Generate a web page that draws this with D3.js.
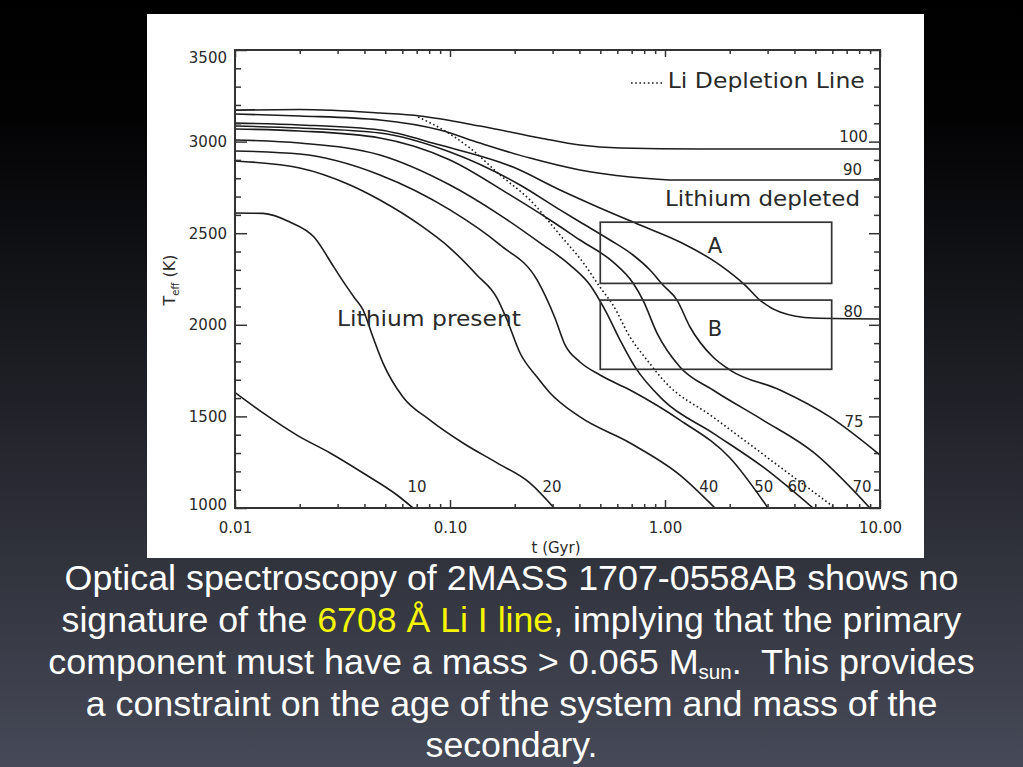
<!DOCTYPE html>
<html><head><meta charset="utf-8">
<script src="https://cdn.jsdelivr.net/npm/d3@7/dist/d3.min.js"></script>
<style>html,body{margin:0;padding:0;background:#000;overflow:hidden}</style>
</head><body><svg id="c" width="1023" height="767"></svg>
<script>
// ---------- data (t in Gyr, Teff in K) ----------
const xTicks = [0.01, 0.1, 1, 10];
const yTicks = [1000, 1500, 2000, 2500, 3000, 3500];
const masses = [10, 20, 40, 50, 60, 70, 75, 80, 90, 100];
const track10 = [[0.01,1630],[0.0135,1519],[0.0194,1398],[0.0277,1300],[0.0394,1191],[0.0567,1071],[0.0673,1000]];
const track20 = [[0.01,2610],[0.0135,2608],[0.018,2561],[0.0233,2479],[0.0288,2316],[0.0315,2245],[0.0357,2152],[0.0394,2081],[0.0438,1933],[0.0488,1791],[0.0604,1606],[0.0807,1480],[0.1149,1355],[0.1655,1246],[0.2357,1136],[0.305,1000]];
const track40 = [[0.01,2894],[0.02,2856],[0.0343,2763],[0.0472,2681],[0.0725,2545],[0.1,2419],[0.1333,2272],[0.1655,2146],[0.1843,2026],[0.2117,1846],[0.254,1715],[0.292,1628],[0.4024,1497],[0.6877,1355],[1.174,1180],[1.709,1000]];
const track50 = [[0.01,2949],[0.02,2932],[0.0472,2818],[0.1,2627],[0.1709,2436],[0.254,2245],[0.3078,2037],[0.3428,1890],[0.4024,1797],[0.4984,1726],[0.6877,1644],[1.174,1480],[2.007,1273],[3.013,1000]];
const track60 = [[0.01,3009],[0.02,2992],[0.0472,2927],[0.1,2763],[0.1709,2599],[0.2623,2447],[0.3617,2326],[0.4479,2217],[0.5259,2081],[0.6177,1917],[0.7251,1770],[0.9787,1590],[1.672,1409],[2.855,1224],[4.879,1000]];
const track70 = [[0.01,3069],[0.02,3058],[0.0472,3020],[0.1,2900],[0.1902,2709],[0.292,2572],[0.4024,2463],[0.5728,2343],[0.7098,2228],[0.7898,2135],[0.9179,1955],[1.174,1770],[1.672,1644],[2.855,1480],[4.879,1306],[8.978,1000]];
const track75 = [[0.01,3085],[0.02,3074],[0.0472,3047],[0.1,2943],[0.2117,2763],[0.325,2627],[0.4024,2561],[0.5549,2463],[0.7098,2381],[0.8515,2299],[0.9787,2217],[1.137,2135],[1.307,1988],[1.672,1824],[2.007,1753],[3.426,1644],[5.848,1497],[10,1289]];
const track80 = [[0.01,3101],[0.02,3091],[0.0472,3063],[0.0898,2981],[0.1964,2861],[0.325,2736],[0.4984,2638],[0.7651,2545],[1.174,2452],[1.803,2326],[2.356,2217],[2.764,2135],[3.426,2070],[4.879,2037],[10,2032]];
const track90 = [[0.01,3151],[0.02,3140],[0.0472,3118],[0.0898,3063],[0.1379,2992],[0.2357,2910],[0.4024,2845],[0.6877,2807],[1.174,2790],[10,2790]];
const track100 = [[0.01,3172],[0.02,3175],[0.0472,3156],[0.0725,3140],[0.1379,3085],[0.2623,3020],[0.4024,2981],[0.6177,2965],[1.455,2960],[10,2960]];
const liDepletion = [[0.071,3134],[0.0898,3074],[0.1238,2965],[0.1709,2818],[0.2357,2681],[0.325,2490],[0.4246,2326],[0.4984,2206],[0.5728,2108],[0.6877,1933],[0.8248,1808],[1.0,1688],[1.672,1497],[3.426,1224],[6.176,1000]];
const tracks = [track10, track20, track40, track50, track60, track70, track75, track80, track90, track100];
// mass label anchor (t, Teff) for each track
const massLabelPos = [[0.0703,1087],[0.298,1087],[1.60,1087],[2.88,1087],[4.11,1087],[8.24,1087],[7.57,1442],[7.50,2043],[7.46,2818],[7.53,2998]];
// boxes: label, t0, t1, Teff0, Teff1, label t, label Teff
const boxes = [["A", 0.5, 5.96, 2226, 2560, 1.709, 2392], ["B", 0.5, 5.96, 1757, 2135, 1.709, 1939]];
const captionLines = [
  [["Optical spectroscopy of 2MASS 1707-0558AB shows no","w"]],
  [["signature of the ","w"],["6708 Å Li I line","y"],[", implying that the primary","w"]],
  [["component must have a mass > 0.065 M","w"],["sun","sub"],[".  This provides","back"]],
  [["a constraint on the age of the system and mass of the","w"]],
  [["secondary.","w"]]
];

// ---------- drawing ----------
const svg = d3.select("#c");
const defs = svg.append("defs");
const grad = defs.append("linearGradient").attr("id","bg").attr("x1",0).attr("y1",0).attr("x2",0).attr("y2",1);
grad.append("stop").attr("offset","0%").attr("stop-color","#000000");
grad.append("stop").attr("offset","15%").attr("stop-color","#020203");
grad.append("stop").attr("offset","100%").attr("stop-color","#464957");
svg.append("rect").attr("width",1023).attr("height",767).attr("fill","url(#bg)");
svg.append("rect").attr("x",147).attr("y",14).attr("width",777).attr("height",544).attr("fill","#fff");

const L = 235, R = 880, T = 50, B = 508;
const x = d3.scaleLog().domain([0.01, 10]).range([L, R]);
const y = d3.scaleLinear().domain([1000, 3500]).range([B, T]);

defs.append("clipPath").attr("id","pc").append("rect").attr("x",L).attr("y",T).attr("width",R-L).attr("height",B-T);

const ink = "#1c1c1c";
const plot = svg.append("g").attr("clip-path","url(#pc)");
const line = d3.line().x(d => x(d[0])).y(d => y(d[1])).curve(d3.curveMonotoneX);
plot.selectAll("path.track").data(tracks).join("path").attr("class","track")
  .attr("d", line).attr("fill","none").attr("stroke",ink).attr("stroke-width",1.6);
plot.append("path").attr("d", line(liDepletion))
  .attr("fill","none").attr("stroke",ink).attr("stroke-width",1.6).attr("stroke-dasharray","1.6 2.6");

// boxes
boxes.forEach(([lab,t0,t1,a,b]) => {
  svg.append("rect").attr("x",x(t0)).attr("y",y(b)).attr("width",x(t1)-x(t0)).attr("height",y(a)-y(b))
    .attr("fill","none").attr("stroke","#333").attr("stroke-width",1.7);
});

// axes
const xMinor = [];
[0.01,0.1,1].forEach(d => { for (let k=2;k<=9;k++) xMinor.push(k*d); });
const yMinor = d3.range(1000,3501,100).filter(v => v % 500 !== 0);
function style(g){
  g.select(".domain").remove();
  g.selectAll("line").attr("stroke","#333").attr("stroke-width",1.5);
  g.selectAll("text").attr("font-family","DejaVu Sans, sans-serif").attr("font-size",15).attr("fill","#2a2a2a");
}
const fmtX = d3.format(".2f");
svg.append("g").attr("transform",`translate(0,${B})`)
  .call(d3.axisBottom(x).tickValues(xTicks).tickSize(-8).tickSizeOuter(0).tickPadding(14).tickFormat(fmtX)).call(style);
svg.append("g").attr("transform",`translate(0,${B})`)
  .call(d3.axisBottom(x).tickValues(xMinor).tickSize(-4).tickSizeOuter(0).tickFormat("")).call(style);
svg.append("g").attr("transform",`translate(0,${T})`)
  .call(d3.axisTop(x).tickValues(xTicks).tickSize(-7).tickSizeOuter(0).tickFormat("")).call(style);
svg.append("g").attr("transform",`translate(0,${T})`)
  .call(d3.axisTop(x).tickValues(xMinor).tickSize(-4).tickSizeOuter(0).tickFormat("")).call(style);
const gl = svg.append("g").attr("transform",`translate(${L},0)`)
  .call(d3.axisLeft(y).tickValues(yTicks).tickSize(-12).tickSizeOuter(0).tickPadding(8).tickFormat(d3.format("d"))).call(style);
gl.selectAll("text").attr("dy", d => d === 3500 ? "0.8em" : d === 1000 ? "0.1em" : "0.32em");
svg.append("g").attr("transform",`translate(${L},0)`)
  .call(d3.axisLeft(y).tickValues(yMinor).tickSize(-6).tickSizeOuter(0).tickFormat("")).call(style);
svg.append("g").attr("transform",`translate(${R},0)`)
  .call(d3.axisRight(y).tickValues(yTicks).tickSize(-11).tickSizeOuter(0).tickFormat("")).call(style);
svg.append("g").attr("transform",`translate(${R},0)`)
  .call(d3.axisRight(y).tickValues(yMinor).tickSize(-6).tickSizeOuter(0).tickFormat("")).call(style);
svg.append("rect").attr("x",L).attr("y",T).attr("width",R-L).attr("height",B-T)
  .attr("fill","none").attr("stroke","#333").attr("stroke-width",2);

// axis titles
const fnt = "DejaVu Sans, sans-serif";
svg.append("text").attr("x",556).attr("y",553).attr("text-anchor","middle")
  .attr("font-family",fnt).attr("font-size",15).attr("fill","#2a2a2a").text("t (Gyr)");
const yt = svg.append("text").attr("transform","translate(175,280) rotate(-90)").attr("text-anchor","middle")
  .attr("font-family",fnt).attr("font-size",16).attr("fill","#2a2a2a");
yt.append("tspan").text("T");
yt.append("tspan").attr("font-size",10).attr("dy",4).text("eff");
yt.append("tspan").attr("dy",-4).style("white-space","pre").text(" (K)");

// mass labels
svg.selectAll("text.mass").data(masses).join("text").attr("class","mass")
  .attr("x",(d,i) => x(massLabelPos[i][0])).attr("y",(d,i) => y(massLabelPos[i][1]))
  .attr("text-anchor","middle").attr("font-family",fnt).attr("font-size",15).attr("fill","#2a2a2a").text(d => d);

// annotations
function ann(txt, t, te, size, width, anchor){
  const s = svg.append("text").attr("x",x(t)).attr("y",y(te)).attr("font-family",fnt).attr("font-size",size)
    .attr("fill","#2a2a2a").attr("text-anchor",anchor||"start").text(txt);
  if (width) s.attr("textLength",width).attr("lengthAdjust","spacingAndGlyphs");
  return s;
}
ann("Li Depletion Line", 1.03, 3293, 22, 197);
svg.append("line").attr("x1",x(0.695)).attr("x2",x(0.979)).attr("y1",y(3320)).attr("y2",y(3320))
  .attr("stroke",ink).attr("stroke-width",1.6).attr("stroke-dasharray","1.6 2.6");
ann("Lithium depleted", 1.0, 2648, 22, 195);
ann("Lithium present", 0.0298, 1993, 22, 184);
boxes.forEach(([lab,t0,t1,a,b,lt,lT]) => ann(lab, lt, lT, 21, null, "middle"));

// caption
const baselines = [590, 632, 674, 716, 757];
const widths = [894, 900, 927, 852, 172];
captionLines.forEach((parts, i) => {
  const t = svg.append("text").attr("font-family","Liberation Sans, Arial, sans-serif").attr("font-size",35)
    .attr("fill","#ffffff").attr("text-anchor","middle").style("white-space","pre");
  parts.forEach(([s, kind]) => {
    const ts = t.append("tspan").text(s);
    if (kind === "y") ts.attr("fill","#f6f600");
    if (kind === "sub") ts.attr("font-size",20).attr("dy",5);
    if (kind === "back") ts.attr("dy",-5);
  });
  const w = t.node().getComputedTextLength();
  t.attr("transform",`translate(511.5,${baselines[i]}) scale(${widths[i]/w},1)`);
});
</script></body></html>
